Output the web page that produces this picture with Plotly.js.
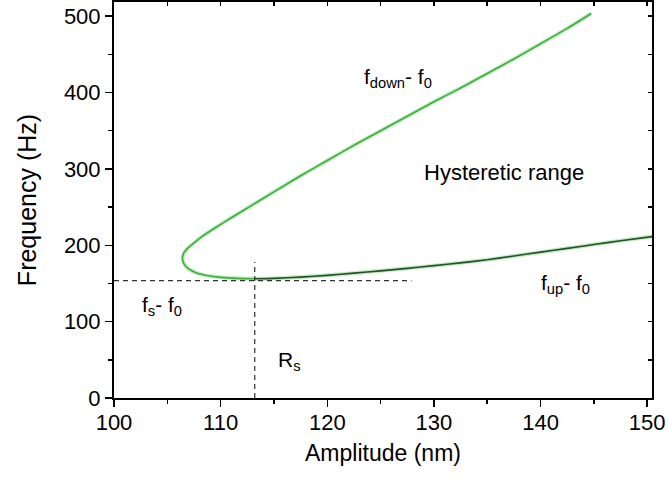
<!DOCTYPE html>
<html>
<head>
<meta charset="utf-8">
<script src="https://cdn.plot.ly/plotly-3.0.1.min.js"></script>
<style>html,body{margin:0;padding:0;background:#fff;}#chart{width:668px;height:479px;}</style>
</head>
<body>
<div id="chart"></div>
<script>
// Upper branch (f_down - f0)
var upperX = [106.4, 106.55, 106.9, 107.5, 108.3, 109.5, 111, 113, 115, 117.5, 120, 122.5, 125, 127.5, 130, 132.5, 135, 137.5, 140, 142.5, 144.75];
var upperY = [183, 190, 196, 203, 212, 223, 236, 253, 270, 291, 311, 331, 350, 369, 388, 406, 425, 444, 464, 484, 503.5];
// Lower branch, left green part
var lowerLeftX = [106.4, 106.55, 107.0, 107.7, 108.7, 110, 111.5, 113.2];
var lowerLeftY = [183, 176, 169, 164, 160.5, 158, 156.7, 156.2];
// Lower branch (f_up - f0), darker part
var lowerRightX = [113.2, 115, 117.5, 120, 122.5, 125, 127.5, 130, 132.5, 135, 137.5, 140, 142.5, 145, 147.5, 150.5];
var lowerRightY = [156.2, 156.6, 158.3, 160.6, 163.5, 166.5, 169.8, 173.3, 177, 181, 186, 191, 196, 201, 206, 211.5];
// Dashed guide lines
var fsLineX = [100, 127.9];
var fsLineY = [153.6, 153.6];
var rsLineX = [113.2, 113.2];
var rsLineY = [0, 178];
// Axis ranges / ticks
var xRange = [100, 150.45];
var yRange = [0, 518.6];
var xTicks = [100, 110, 120, 130, 140, 150];
var yTicks = [0, 100, 200, 300, 400, 500];

var FONT = 'Liberation Sans, Arial, sans-serif';
var halo = 'rgba(140,220,140,0.55)';

function line(x, y, color, width) {
  return {x: x, y: y, mode: 'lines', type: 'scatter', hoverinfo: 'skip', showlegend: false,
          line: {color: color, width: width, shape: 'spline', smoothing: 0.6}};
}

var traces = [
  line(upperX, upperY, halo, 4),
  line(lowerLeftX, lowerLeftY, halo, 4),
  line(lowerRightX, lowerRightY, halo, 4),
  line(upperX, upperY, '#3fae3f', 1.6),
  line(lowerLeftX, lowerLeftY, '#3fae3f', 1.6),
  line(lowerRightX, lowerRightY, '#24502a', 1.6),
  {x: fsLineX, y: fsLineY, mode: 'lines', type: 'scatter', hoverinfo: 'skip', showlegend: false,
   line: {color: '#333', width: 1.2, dash: '5px,4px'}},
  {x: rsLineX, y: rsLineY, mode: 'lines', type: 'scatter', hoverinfo: 'skip', showlegend: false,
   line: {color: '#333', width: 1.2, dash: '5px,4px'}},
  {x: [], y: [], xaxis: 'x2', yaxis: 'y2', type: 'scatter', mode: 'lines', showlegend: false, hoverinfo: 'skip'}
];

var layout = {
  width: 668, height: 479,
  margin: {l: 114, r: 16, t: 2, b: 81},
  paper_bgcolor: '#fff', plot_bgcolor: '#fff',
  font: {family: FONT, color: '#000'},
  showlegend: false,
  xaxis: {
    range: xRange, tickvals: xTicks, ticktext: xTicks.map(String),
    ticks: 'outside', ticklen: 7, tickwidth: 1.5, tickcolor: '#000',
    minor: {dtick: 5, ticks: 'outside', ticklen: 4, tickwidth: 1.5, tickcolor: '#000', showgrid: false},
    showgrid: false, zeroline: false, showline: true, linecolor: '#000', linewidth: 2,
    tickfont: {size: 22, family: FONT}, ticklabelstandoff: -3,
    title: {text: 'Amplitude (nm)', font: {size: 23, family: FONT}, standoff: 10}
  },
  yaxis: {
    range: yRange, tickvals: yTicks, ticktext: yTicks.map(String),
    ticks: 'outside', ticklen: 7, tickwidth: 1.5, tickcolor: '#000',
    minor: {dtick: 50, ticks: 'outside', ticklen: 4, tickwidth: 1.5, tickcolor: '#000', showgrid: false},
    showgrid: false, zeroline: false, showline: true, linecolor: '#000', linewidth: 2,
    tickfont: {size: 22, family: FONT},
    title: {text: 'Frequency (Hz)', font: {size: 25, family: FONT}, standoff: 20}
  },
  xaxis2: {
    range: xRange, overlaying: 'x', side: 'top', anchor: 'y2', dtick: 5, tick0: 100,
    ticks: 'inside', ticklen: 4, tickwidth: 1.5, tickcolor: '#000',
    showticklabels: false, showgrid: false, zeroline: false, showline: true, linecolor: '#000', linewidth: 2
  },
  yaxis2: {
    range: yRange, overlaying: 'y', side: 'right', anchor: 'x2', dtick: 50, tick0: 0,
    ticks: 'inside', ticklen: 4, tickwidth: 1.5, tickcolor: '#000',
    showticklabels: false, showgrid: false, zeroline: false, showline: true, linecolor: '#000', linewidth: 2
  },
  annotations: [
    {x: 123.24, y: 419, xref: 'x', yref: 'y', xanchor: 'left', yanchor: 'middle', showarrow: false,
     text: 'f<sub>down</sub>- f<sub>0</sub>', font: {size: 21, family: FONT}},
    {x: 136.6, y: 295, xref: 'x', yref: 'y', xanchor: 'center', yanchor: 'middle', showarrow: false,
     text: 'Hysteretic range', font: {size: 22, family: FONT}},
    {x: 139.84, y: 149, xref: 'x', yref: 'y', xanchor: 'left', yanchor: 'middle', showarrow: false,
     text: 'f<sub>up</sub>- f<sub>0</sub>', font: {size: 21, family: FONT}},
    {x: 102.4, y: 120.5, xref: 'x', yref: 'y', xanchor: 'left', yanchor: 'middle', showarrow: false,
     text: 'f<sub>s</sub>- f<sub>0</sub>', font: {size: 21, family: FONT}},
    {x: 115.23, y: 48.5, xref: 'x', yref: 'y', xanchor: 'left', yanchor: 'middle', showarrow: false,
     text: 'R<sub>s</sub>', font: {size: 21, family: FONT}}
  ]
};

Plotly.newPlot('chart', traces, layout, {displayModeBar: false, staticPlot: true});
</script>
</body>
</html>
